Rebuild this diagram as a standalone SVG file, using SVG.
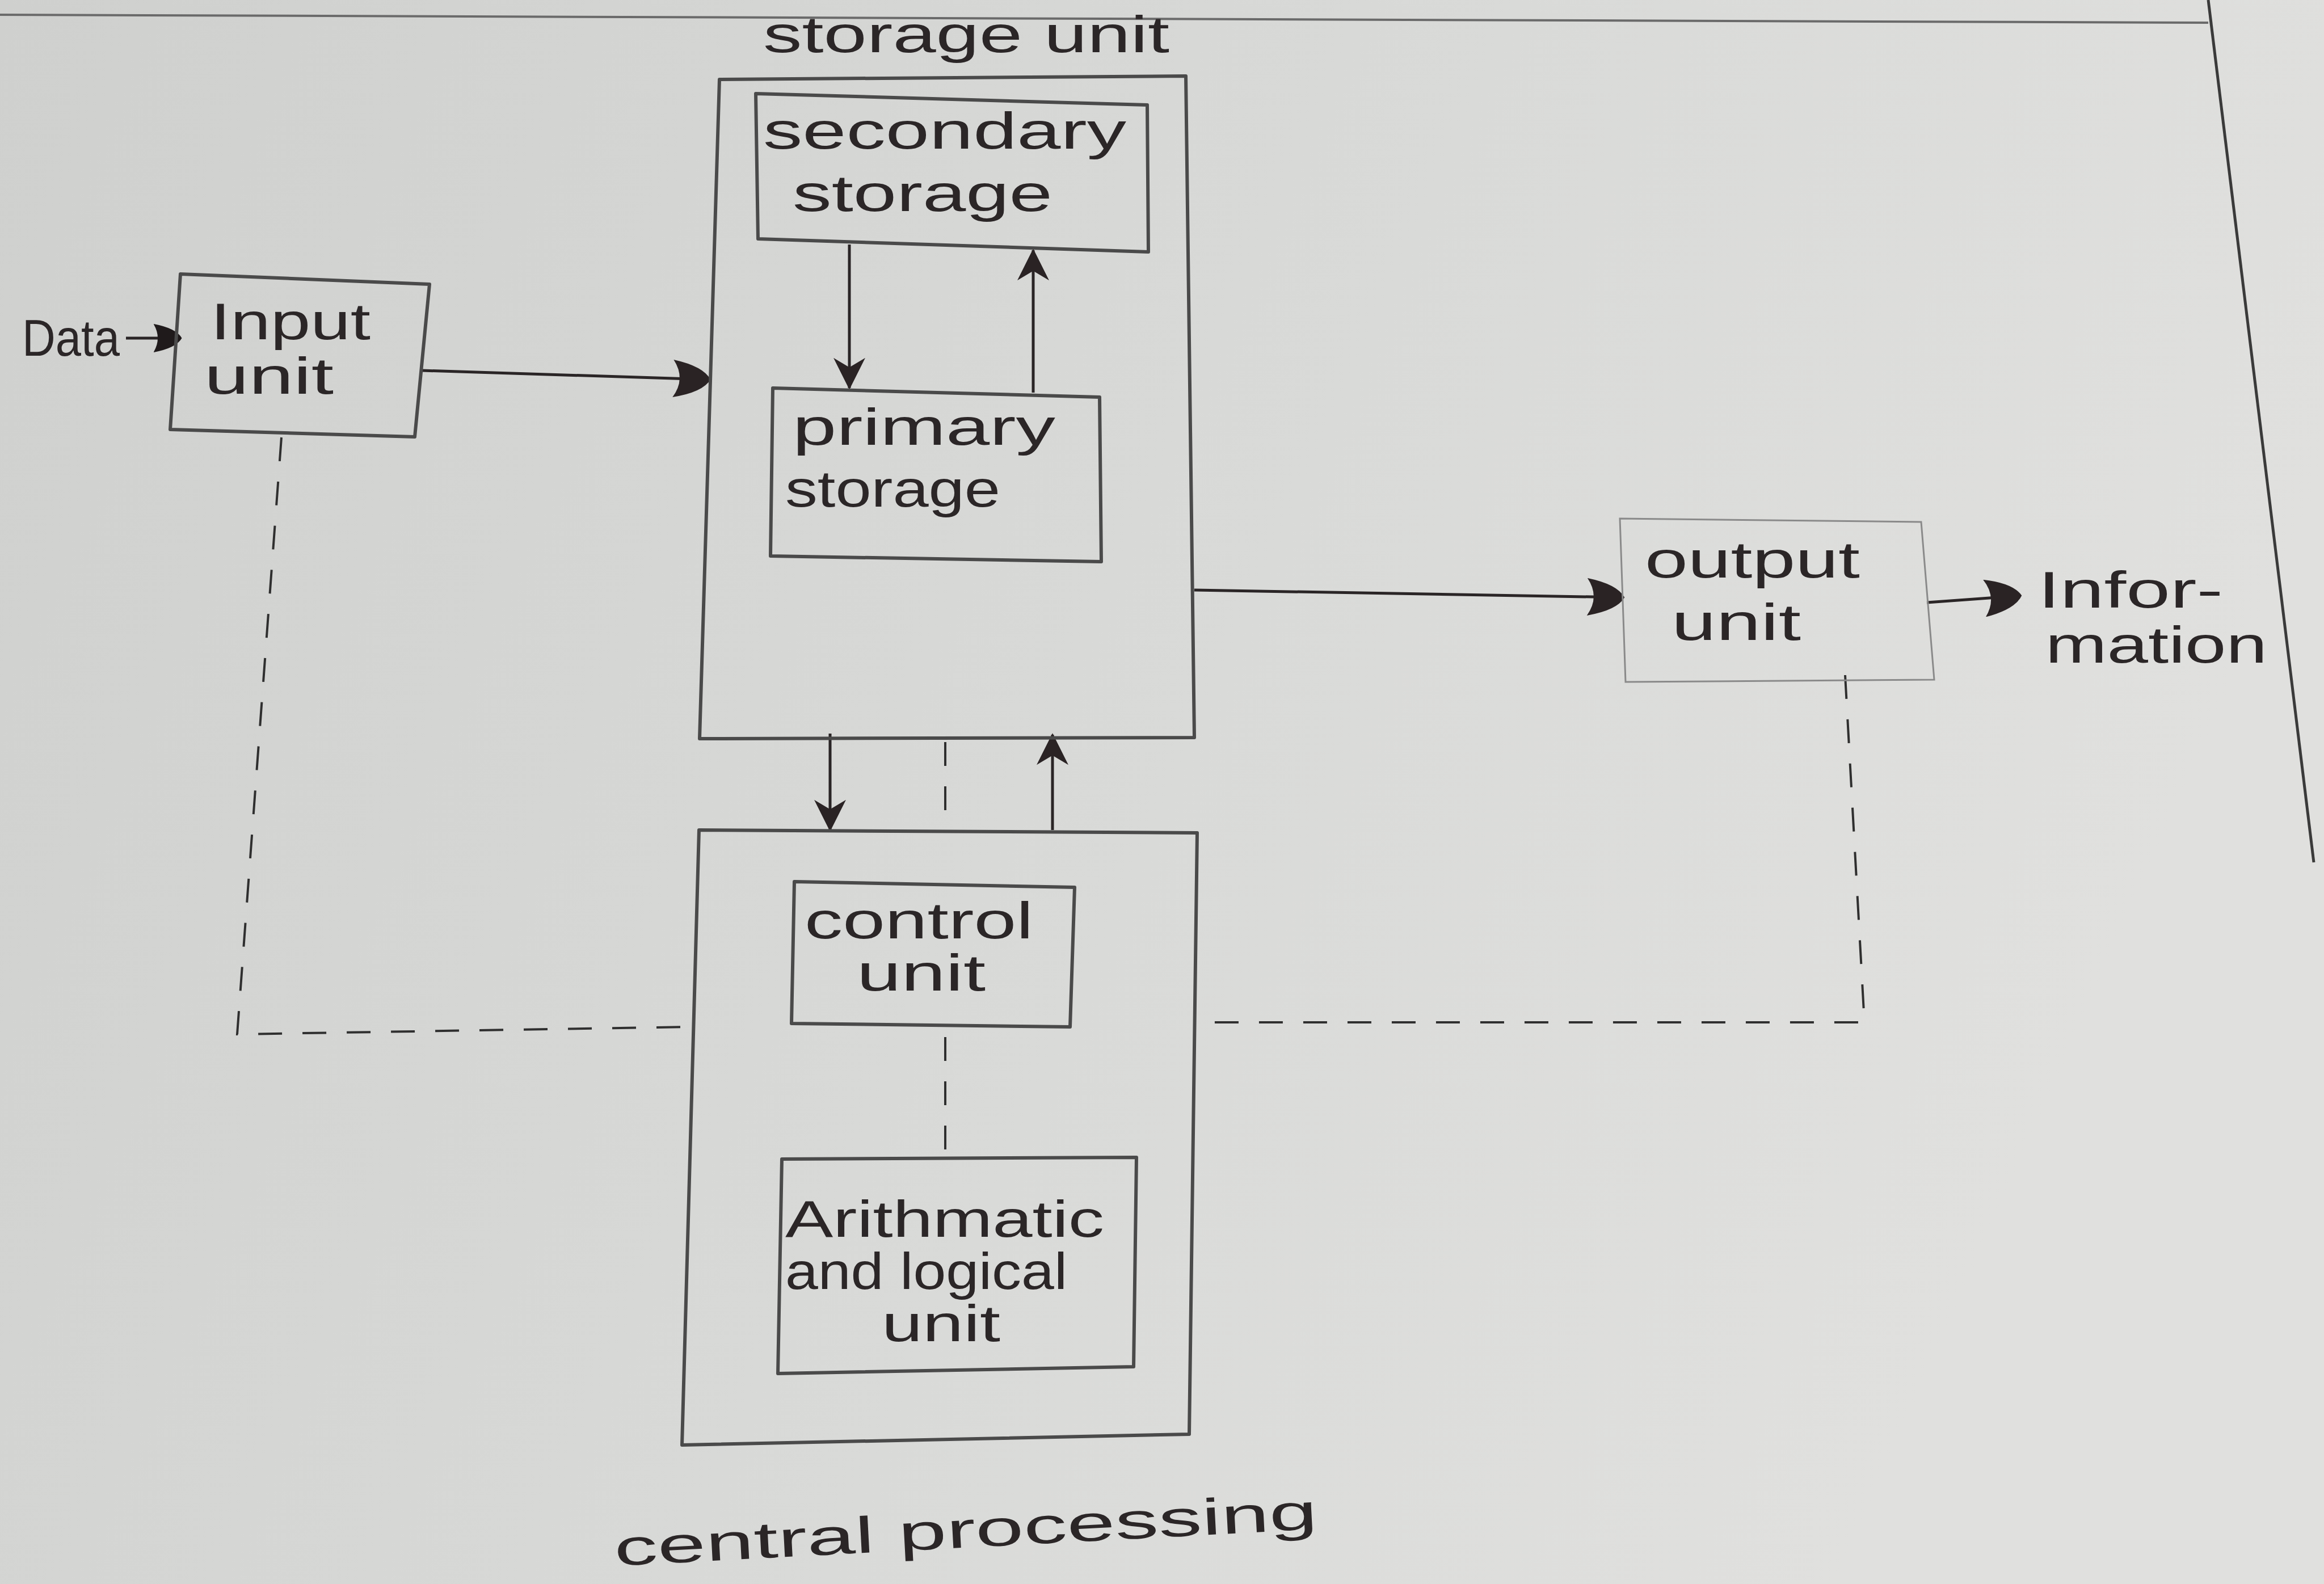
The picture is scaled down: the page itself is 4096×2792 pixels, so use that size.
<svg xmlns="http://www.w3.org/2000/svg" width="4096" height="2792" viewBox="0 0 4096 2792">
<defs>
<linearGradient id="paper" x1="0" y1="0" x2="1" y2="0.3">
<stop offset="0" stop-color="#cfd0ce"/>
<stop offset="0.6" stop-color="#d9dad8"/>
<stop offset="1" stop-color="#e0e0de"/>
</linearGradient>
<marker id="ahBig" viewBox="0 0 10 10" refX="9.5" refY="5" markerWidth="72" markerHeight="66" markerUnits="userSpaceOnUse" orient="auto">
<path d="M0,0 Q8,1.5 10,5 Q8,8.5 0,10 Q3.5,5 0,0 Z" fill="#2a2324"/>
</marker>
<marker id="ahMid" viewBox="0 0 10 10" refX="9.5" refY="5" markerWidth="56" markerHeight="58" markerUnits="userSpaceOnUse" orient="auto">
<path d="M0,0 L10,5 L0,10 L3,5 Z" fill="#2a2324"/>
</marker>
<marker id="ahSmall" viewBox="0 0 10 10" refX="9.5" refY="5" markerWidth="50" markerHeight="56" markerUnits="userSpaceOnUse" orient="auto">
<path d="M0,0 Q8,1.5 10,5 Q8,8.5 0,10 Q3,5 0,0 Z" fill="#1f1a1b"/>
</marker>
<style>
.box{fill:none;stroke:#4a4a4a;stroke-width:6;stroke-linejoin:round}
.faint{fill:none;stroke:#8a8a8a;stroke-width:3}
.lbl{font-family:"Liberation Sans",Arial,sans-serif;fill:#2b2627;font-size:90px}
.arr{fill:none;stroke:#2a2526;stroke-width:5}
.dash{fill:none;stroke:#2f2f2f;stroke-width:4;stroke-dasharray:42 36}
</style>
</defs>
<rect x="0" y="0" width="4096" height="2792" fill="url(#paper)"/>
<g id="paper-lines">
<line x1="0" y1="26" x2="3892" y2="40" stroke="#6a6a6a" stroke-width="4"/>
<line x1="3892" y1="0" x2="4078" y2="1520" stroke="#3a3a3a" stroke-width="5"/>
</g>

<g id="connectors">
<line class="arr" x1="222" y1="596" x2="318" y2="596" marker-end="url(#ahSmall)"/>
<line class="arr" x1="744" y1="653" x2="1249" y2="669" marker-end="url(#ahBig)"/>
<line class="arr" x1="1497" y1="431" x2="1497" y2="684" marker-end="url(#ahMid)"/>
<line class="arr" x1="1821" y1="692" x2="1821" y2="441" marker-end="url(#ahMid)"/>
<line class="arr" x1="2105" y1="1040" x2="2860" y2="1053" marker-end="url(#ahBig)"/>
<line class="arr" x1="3396" y1="1062" x2="3560" y2="1050" marker-end="url(#ahBig)"/>
<line class="arr" x1="1463" y1="1293" x2="1463" y2="1463" marker-end="url(#ahMid)"/>
<line class="arr" x1="1855" y1="1463" x2="1855" y2="1295" marker-end="url(#ahMid)"/>
<line class="dash" x1="1666" y1="1308" x2="1666" y2="1450" stroke-width="3"/>
<line class="dash" x1="1666" y1="1828" x2="1666" y2="2043" stroke-width="3"/>
<polyline class="dash" points="496,771 418,1823 1215,1810"/>
<polyline class="dash" points="3252,1190 3286,1802 2111,1802"/>
</g>

<g id="data-label">
<text class="lbl" x="39" y="627" font-size="74" textLength="172" lengthAdjust="spacingAndGlyphs">Data</text>
</g>

<g id="input-unit">
<path class="box" d="M318,483 L757,501 L731,770 L300,757 Z"/>
<text class="lbl" x="371" y="598" font-size="90" textLength="282" lengthAdjust="spacingAndGlyphs">Input</text>
<text class="lbl" x="360" y="694" font-size="90" textLength="228" lengthAdjust="spacingAndGlyphs">unit</text>
</g>

<g id="storage-unit">
<path class="box" d="M1268,140 L2090,134 L2105,1300 L1233,1302 Z"/>
<text class="lbl" x="1345" y="92" font-size="100" textLength="716" lengthAdjust="spacingAndGlyphs">storage unit</text>
</g>

<g id="secondary-storage">
<path class="box" d="M1332,165 L2022,185 L2024,444 L1336,421 Z"/>
<text class="lbl" x="1345" y="262" font-size="98" textLength="640" lengthAdjust="spacingAndGlyphs">secondary</text>
<text class="lbl" x="1397" y="372" font-size="98" textLength="458" lengthAdjust="spacingAndGlyphs">storage</text>
</g>

<g id="primary-storage">
<path class="box" d="M1362,684 L1938,700 L1941,990 L1358,980 Z"/>
<text class="lbl" x="1397" y="784" font-size="97" textLength="463" lengthAdjust="spacingAndGlyphs">primary</text>
<text class="lbl" x="1384" y="893" font-size="97" textLength="379" lengthAdjust="spacingAndGlyphs">storage</text>
</g>

<g id="output-unit">
<path class="faint" d="M2855,914 L3386,920 L3409,1198 L2865,1202 Z"/>
<text class="lbl" x="2899" y="1018" font-size="97" textLength="379" lengthAdjust="spacingAndGlyphs">output</text>
<text class="lbl" x="2946" y="1128" font-size="97" textLength="228" lengthAdjust="spacingAndGlyphs">unit</text>
</g>

<g id="information-label">
<text class="lbl" x="3592" y="1071" font-size="88" textLength="326" lengthAdjust="spacingAndGlyphs">Infor-</text>
<text class="lbl" x="3605" y="1168" font-size="88" textLength="391" lengthAdjust="spacingAndGlyphs">mation</text>
</g>

<g id="cpu">
<path class="box" d="M1232,1463 L2110,1468 L2096,2528 L1202,2547 Z"/>
<text class="lbl" x="1084" y="2760" font-size="150" textLength="1241" lengthAdjust="spacingAndGlyphs" transform="rotate(-3 1084 2760)">central processing</text>
</g>

<g id="control-unit">
<path class="box" d="M1400,1554 L1894,1564 L1886,1810 L1395,1804 Z"/>
<text class="lbl" x="1418" y="1654" font-size="74" textLength="403" lengthAdjust="spacingAndGlyphs">control</text>
<text class="lbl" x="1510" y="1746" font-size="74" textLength="227" lengthAdjust="spacingAndGlyphs">unit</text>
</g>

<g id="alu">
<path class="box" d="M1378,2043 L2003,2040 L1998,2409 L1371,2421 Z"/>
<text class="lbl" x="1384" y="2180" font-size="82" textLength="562" lengthAdjust="spacingAndGlyphs">Arithmatic</text>
<text class="lbl" x="1384" y="2272" font-size="82" textLength="497" lengthAdjust="spacingAndGlyphs">and logical</text>
<text class="lbl" x="1554" y="2364" font-size="82" textLength="209" lengthAdjust="spacingAndGlyphs">unit</text>
</g>
</svg>
